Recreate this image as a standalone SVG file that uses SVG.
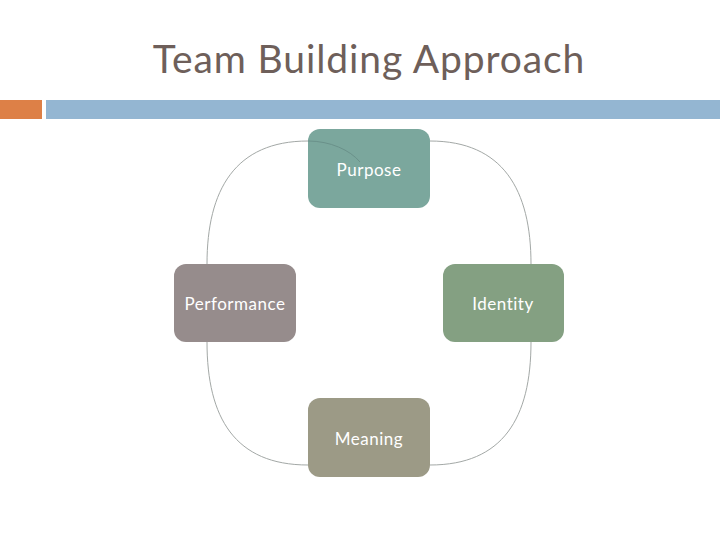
<svg xmlns="http://www.w3.org/2000/svg" width="720" height="540" viewBox="0 0 720 540">
<style>
.node text{font-family:"Lato","DejaVu Sans",sans-serif;font-size:17px;letter-spacing:0.5px;fill:#ffffff;text-anchor:middle;dominant-baseline:central}
.conn path{fill:none;stroke:#a3a8a6;stroke-width:1}
.title{font-family:"Lato","DejaVu Sans",sans-serif;font-size:39px;letter-spacing:0.9px;fill:#6e5f5a;text-anchor:middle}
</style>
<rect width="720" height="540" fill="#ffffff"/>
<text class="title" x="369" y="73">Team Building Approach</text>
<rect x="0" y="100" width="42" height="19" fill="#dd8047"/>
<rect x="46" y="100" width="674" height="19" fill="#94b6d2"/>
<g class="conn" id="connectors">
<path d="M308,141 C235,141 207,190 207,264"/>
<path d="M430,141 C503,141 531,190 531,264"/>
<path d="M207,342 C207,418 235,465 308,465"/>
<path d="M531,342 C531,418 503,465 430,465"/>
</g>
<g class="node" id="purpose">
<rect x="308" y="129" width="122" height="79" rx="12" fill="#7ba79d"/>
<path d="M308,141 C330,141 350,150 360,162" fill="none" stroke="#6a918a" stroke-width="1"/>
<text x="369" y="169">Purpose</text>
</g>
<g class="node" id="performance">
<rect x="174" y="264" width="122" height="78" rx="12" fill="#968c8c"/>
<text x="235" y="303">Performance</text>
</g>
<g class="node" id="identity">
<rect x="443" y="264" width="121" height="78" rx="12" fill="#84a082"/>
<text x="503" y="303">Identity</text>
</g>
<g class="node" id="meaning">
<rect x="308" y="398" width="122" height="79" rx="12" fill="#9c9a86"/>
<text x="369" y="438">Meaning</text>
</g>
</svg>
